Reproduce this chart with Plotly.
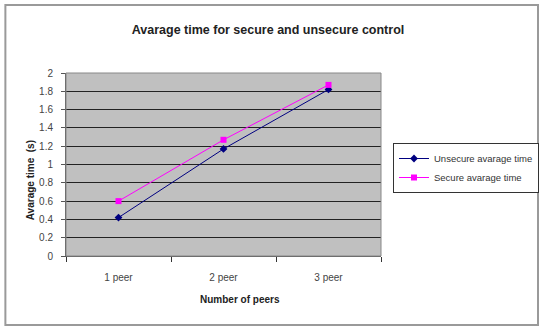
import plotly.graph_objects as go

categories = ["1 peer", "2 peer", "3 peer"]
unsecure = [0.42, 1.17, 1.82]
secure = [0.60, 1.27, 1.87]
y_ticks = [0, 0.2, 0.4, 0.6, 0.8, 1, 1.2, 1.4, 1.6, 1.8, 2]
y_tick_labels = ["0", "0.2", "0.4", "0.6", "0.8", "1", "1.2", "1.4", "1.6", "1.8", "2"]

W, H = 546, 329
L, R, T, B = 66, 383, 73, 256
pw, ph = R - L, B - T

def px(x):
    return (x - L) / pw

def py(y):
    return (B - y) / ph

FONT = "Liberation Sans, Arial, sans-serif"

fig = go.Figure()
fig.add_trace(go.Scatter(
    x=categories, y=unsecure, name="Unsecure avarage time",
    mode="lines+markers",
    line=dict(color="#000080", width=1),
    marker=dict(symbol="diamond", size=6, color="#000080"),
))
fig.add_trace(go.Scatter(
    x=categories, y=secure, name="Secure avarage time",
    mode="lines+markers",
    line=dict(color="#FF00FF", width=1),
    marker=dict(symbol="square", size=6, color="#FF00FF"),
))

fig.update_layout(
    width=W, height=H,
    margin=dict(l=L, r=W - R, t=T, b=H - B, pad=0),
    paper_bgcolor="white",
    plot_bgcolor="#C0C0C0",
    font=dict(family=FONT, size=10, color="#333333"),
    title=dict(
        text="<b>Avarage time for secure and unsecure control</b>",
        x=268 / W, xref="container", xanchor="center",
        y=1 - 30 / H, yref="container", yanchor="middle",
        font=dict(family=FONT, size=12.5, color="#222222"),
    ),
    showlegend=True,
    legend=dict(
        x=393 / W, xref="container", xanchor="left",
        y=1 - 143 / H, yref="container", yanchor="top",
        bgcolor="white", bordercolor="#333333", borderwidth=1,
        font=dict(family=FONT, size=9.5, color="#333333"),
        itemwidth=30, tracegroupgap=2,
    ),
    xaxis=dict(
        type="category",
        range=[-0.5, 2.5],
        showgrid=False,
        showline=True, linecolor="#555555", linewidth=1,
        ticks="outside", ticklen=5, tickcolor="#333333", tickwidth=1,
        tickson="boundaries",
        ticklabelstandoff=12,
        tickfont=dict(size=10, color="#444444"),
        zeroline=False,
    ),
    yaxis=dict(
        range=[0, 2],
        tickvals=y_ticks, ticktext=y_tick_labels,
        showgrid=True, gridcolor="#222222", gridwidth=1,
        showline=True, linecolor="#555555", linewidth=1,
        ticks="outside", ticklen=4, tickcolor="#555555",
        ticklabelstandoff=6,
        tickfont=dict(size=10, color="#444444"),
        zeroline=False,
    ),
    annotations=[
        dict(text="<b>Number of peers</b>", x=px(241), y=py(299),
             xref="paper", yref="paper", showarrow=False,
             xanchor="center", yanchor="middle",
             font=dict(family=FONT, size=10, color="#222222")),
        dict(text="<b>Avarage time  (s)</b>", x=px(30), y=py(180),
             xref="paper", yref="paper", showarrow=False, textangle=-90,
             xanchor="center", yanchor="middle",
             font=dict(family=FONT, size=10, color="#222222")),
    ],
    shapes=[
        dict(type="rect", xref="paper", yref="paper",
             x0=px(5), x1=px(541), y0=py(325), y1=py(5),
             line=dict(color="#9a9a9a", width=2), layer="below"),
        dict(type="rect", xref="paper", yref="paper",
             x0=0, x1=1, y0=0, y1=1,
             line=dict(color="#888888", width=1), layer="above"),
    ],
)

fig.write_html(
    "out.html",
    config={"displayModeBar": False},
    post_script="document.body.style.margin='0';document.body.style.padding='0';",
)
